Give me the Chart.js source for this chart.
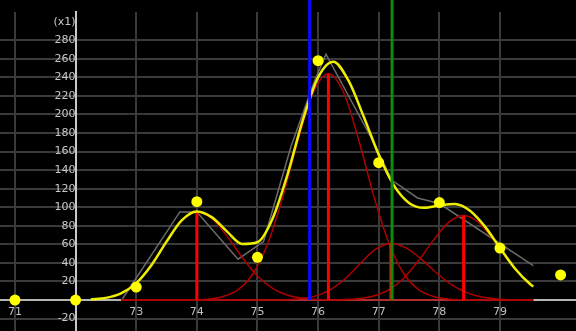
<!DOCTYPE html>
<html>
<head>
<meta charset="utf-8">
<script src="https://cdn.jsdelivr.net/npm/chart.js@4/dist/chart.umd.min.js"></script>
<style>
  html, body { margin: 0; padding: 0; background: #000; }
  canvas { display: block; }
</style>
</head>
<body>
<canvas id="c" width="576" height="331"></canvas>
<script>
// Axis ticks and their labels
const xTicks = [71, 72, 73, 74, 75, 76, 77, 78, 79];
const xTickLabels = ['71', '', '73', '74', '75', '76', '77', '78', '79'];
const yTicks = [-20, 0, 20, 40, 60, 80, 100, 120, 140, 160, 180, 200, 220, 240, 260, 280, 300];
const yTickLabels = ['-20', '', '20', '40', '60', '80', '100', '120', '140', '160', '180', '200', '220', '240', '260', '280', '(x1)'];

// Measured samples (yellow dots)
const sampleX = [71, 72, 73, 74, 75, 76, 77, 78, 79, 80];
const sampleY = [0, 0, 14, 106, 46, 258, 148, 105, 56, 27];

// Raw trace (grey polyline)
const traceX = [72.76, 73.72, 74.0, 74.68, 75.1, 75.55, 75.94, 76.13, 76.9, 77.22, 77.64, 78.0, 79.55];
const traceY = [0, 95, 95, 44, 63, 165, 236, 265, 172, 129, 110, 104, 37];

// Fitted envelope (yellow curve)
const fitX = [72.25, 72.5, 72.75, 73.0, 73.25, 73.5, 73.75, 74.0, 74.25, 74.5, 74.75, 75.0, 75.25, 75.5,
              75.75, 76.0, 76.25, 76.5, 76.75, 77.0, 77.25, 77.5, 77.75, 78.0, 78.25, 78.5, 78.75,
              79.0, 79.25, 79.5, 79.55];
const fitY = [0.6, 2.3, 7.2, 18.2, 37.5, 62.9, 85.8, 95.4, 89.1, 73.7, 60.5, 62.3, 87.9, 136.3,
              194.5, 240.1, 257, 236.7, 198.1, 156.7, 123.6, 104.7, 99.4, 101.8, 103.4, 96.6, 79.4,
              56.1, 33.7, 17.0, 14.6];

// Peak components (dark red curves)
const comp1X = [72.75, 73.0, 73.25, 73.5, 73.75, 74.0, 74.25, 74.5, 74.75, 75.0, 75.25, 75.5, 75.75, 76.0, 76.25, 76.5, 79.55];
const comp1Y = [7.2, 18.2, 37.5, 62.9, 85.7, 95, 87.6, 68.6, 45.7, 25.9, 12.5, 5.1, 1.8, 0.5, 0.1, 0, 0];
const comp2X = [72.75, 73.67, 73.92, 74.17, 74.42, 74.67, 74.92, 75.17, 75.42, 75.67, 75.92, 76.17,
                76.42, 76.67, 76.92, 77.17, 77.42, 77.67, 77.92, 78.17, 78.42, 78.67, 79.55];
const comp2Y = [0, 0, 0.2, 0.9, 3.5, 10.7, 27.8, 60.9, 111.7, 172.5, 223.7, 244,
                223.7, 172.5, 111.7, 60.9, 27.8, 10.7, 3.5, 0.9, 0.2, 0, 0];
const comp3X = [72.75, 75.2, 75.45, 75.7, 75.95, 76.2, 76.45, 76.7, 76.95, 77.2, 77.45, 77.7, 77.95, 78.2, 78.45, 78.7, 78.95, 79.2, 79.55];
const comp3Y = [0, 0, 0.3, 1.3, 4.2, 11.0, 23.2, 39.7, 54.8, 61, 56.2, 44.1, 29.4, 16.6, 8.0, 3.3, 1.1, 0.3, 0];
const comp4X = [72.75, 75.9, 76.15, 76.4, 76.65, 76.9, 77.15, 77.4, 77.65, 77.9, 78.15, 78.4, 78.65, 78.9, 79.15, 79.4, 79.55];
const comp4Y = [0, 0, 0.1, 0.4, 1.3, 4.0, 10.4, 22.7, 41.7, 64.3, 83.4, 91, 83.4, 64.3, 41.7, 22.7, 14.5];

// Peak centres and heights (bright red sticks)
const peakX = [74.0, 76.17, 77.2, 78.4];
const peakY = [95, 244, 61, 91];

// Cursor markers
const cursorBlueX = 75.86;
const cursorGreenX = 77.22;
const cursorTop = 330;

const zip = (xs, ys) => xs.map((x, i) => ({ x, y: ys[i] }));

const curve = (xs, ys, color, width, order) => ({
  data: zip(xs, ys),
  showLine: true,
  borderColor: color,
  borderWidth: width,
  pointRadius: 0,
  cubicInterpolationMode: 'monotone',
  order
});

const stick = (x, y0, y1, color, width, order) => ({
  data: [{ x, y: y0 }, { x, y: y1 }],
  showLine: true,
  borderColor: color,
  borderWidth: width,
  pointRadius: 0,
  clip: false,
  order
});

const datasets = [
  {
    data: zip(sampleX, sampleY),
    pointRadius: 5.5,
    pointBackgroundColor: '#ffff00',
    pointBorderWidth: 0,
    showLine: false,
    clip: false,
    order: 0
  },
  stick(cursorBlueX, 0, cursorTop, '#0a0aff', 3, 1),
  stick(cursorGreenX, 0, cursorTop, '#0c8c0c', 3, 1),
  curve(fitX, fitY, '#eeee00', 2.5, 2),
  ...peakX.map((x, i) => stick(x, 0, peakY[i], '#ff0000', 3, 3)),
  curve(comp1X, comp1Y, '#b00000', 1.5, 4),
  curve(comp2X, comp2Y, '#b00000', 1.5, 4),
  curve(comp3X, comp3Y, '#b00000', 1.5, 4),
  curve(comp4X, comp4Y, '#b00000', 1.5, 4),
  {
    data: zip(traceX, traceY),
    showLine: true,
    borderColor: '#6a6a6a',
    borderWidth: 1.5,
    pointRadius: 0,
    order: 5
  }
];

const tickFont = { family: 'DejaVu Sans', size: 11 };

// Axes sit inside the plot, so their labels must not push the plot edges inward
const noEdgePadding = s => {
  s.paddingLeft = 0; s.paddingRight = 0; s.paddingTop = 0; s.paddingBottom = 0;
};

new Chart(document.getElementById('c'), {
  type: 'scatter',
  data: { datasets },
  options: {
    responsive: false,
    devicePixelRatio: 1,
    animation: false,
    layout: { autoPadding: false, padding: { top: 12, left: 0, right: 0, bottom: 0 } },
    plugins: { legend: { display: false }, tooltip: { enabled: false } },
    scales: {
      x: {
        type: 'linear',
        min: 70.753,
        max: 80.254,
        position: { y: 0 },
        afterBuildTicks: s => { s.ticks = xTicks.map(v => ({ value: v })); },
        afterFit: noEdgePadding,
        ticks: {
          autoSkip: false,
          maxRotation: 0,
          color: '#c0c0c0',
          font: tickFont,
          padding: 6,
          callback: (v, i) => xTickLabels[i]
        },
        grid: { color: '#3a3a3a', lineWidth: 2, drawTicks: false },
        border: { color: '#b4b4b4', width: 2 }
      },
      y: {
        type: 'linear',
        min: -33.4,
        max: 310.5,
        position: { x: 72 },
        afterBuildTicks: s => { s.ticks = yTicks.map(v => ({ value: v })); },
        afterFit: noEdgePadding,
        ticks: {
          autoSkip: false,
          color: '#c8c8c8',
          font: tickFont,
          padding: 6,
          callback: (v, i) => yTickLabels[i]
        },
        grid: {
          color: ctx => (ctx.tick && ctx.tick.value === 300) ? 'rgba(0,0,0,0)' : '#3a3a3a',
          lineWidth: 2,
          drawTicks: false
        },
        border: { color: '#c8c8c8', width: 2 }
      }
    }
  }
});
</script>
</body>
</html>
